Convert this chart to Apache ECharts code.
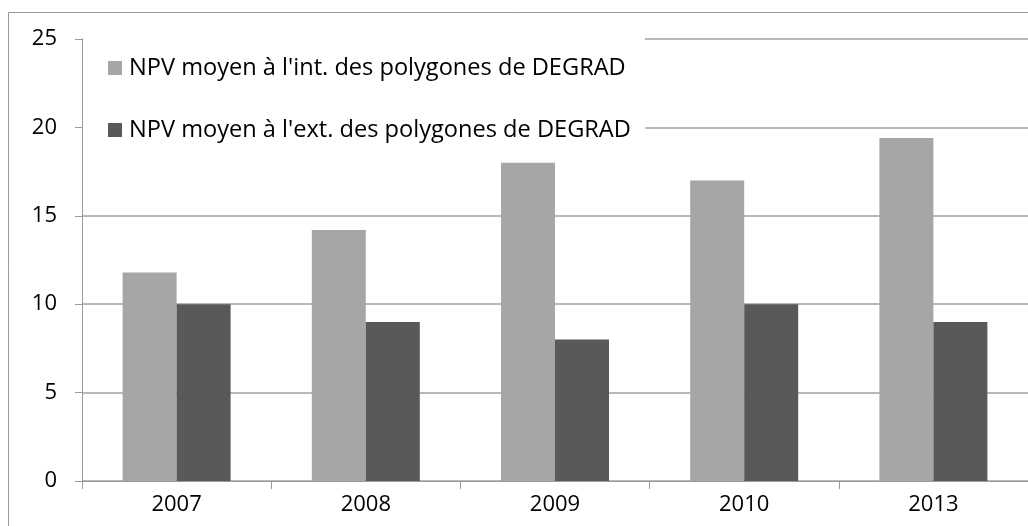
<!DOCTYPE html>
<html>
<head>
<meta charset="utf-8">
<style>
  html, body { margin: 0; padding: 0; background: #fff; }
  #chart { width: 1028px; height: 526px; }
</style>
<script src="https://cdn.jsdelivr.net/npm/echarts@6/dist/echarts.min.js"></script>
</head>
<body>
<div id="chart"></div>
<script>
// Années observées
const years = ['2007', '2008', '2009', '2010', '2013'];
// NPV moyen à l'intérieur des polygones de DEGRAD
const npvInt = [11.8, 14.2, 18, 17, 19.4];
// NPV moyen à l'extérieur des polygones de DEGRAD
const npvExt = [10, 9, 8, 10, 9];
const seriesNames = [
  "NPV moyen à l'int. des polygones de DEGRAD",
  "NPV moyen à l'ext. des polygones de DEGRAD"
];
const yTicks = { min: 0, max: 25, interval: 5 };

const FONT = '"Open Sans", "Noto Sans", sans-serif';
const chart = echarts.init(document.getElementById('chart'), null, { renderer: 'canvas' });

chart.setOption({
  animation: false,
  backgroundColor: '#fff',
  textStyle: { fontFamily: FONT, color: '#000' },
  grid: { left: 82, top: 39, width: 947.5, height: 442, containLabel: false },
  graphic: [
    // outer chart frame
    { type: 'rect', z: 0, silent: true,
      shape: { x: 8.5, y: 12.5, width: 1040, height: 540 },
      style: { fill: 'none', stroke: '#9a9a9a', lineWidth: 1 } },
    // white box behind the legend
    { type: 'rect', z: 3, silent: true,
      shape: { x: 83, y: 30, width: 562, height: 112 },
      style: { fill: '#fff' } }
  ],
  legend: {
    z: 10,
    orient: 'vertical',
    left: 108,
    top: 55,
    padding: 0,
    itemWidth: 14,
    itemHeight: 14,
    itemGap: 36,
    icon: 'rect',
    textStyle: { fontFamily: FONT, fontSize: 23.6, color: '#000', lineHeight: 26, padding: [0, 0, 0, 2] },
    data: seriesNames
  },
  xAxis: {
    type: 'category',
    data: years,
    axisLine: { lineStyle: { color: '#9a9a9a', width: 1 } },
    axisTick: { show: true, length: 8, lineStyle: { color: '#9a9a9a' } },
    axisLabel: { fontFamily: FONT, fontSize: 22, color: '#000', margin: 13 }
  },
  yAxis: {
    type: 'value',
    min: yTicks.min,
    max: yTicks.max,
    interval: yTicks.interval,
    axisLine: { show: true, lineStyle: { color: '#9a9a9a', width: 1 } },
    axisTick: { show: true, length: 7, lineStyle: { color: '#9a9a9a' } },
    axisLabel: { fontFamily: FONT, fontSize: 22, color: '#000', margin: 25 },
    splitLine: { show: true, lineStyle: { color: '#a0a0a0', width: 1.5 } }
  },
  series: [
    { name: seriesNames[0], type: 'bar', data: npvInt, barWidth: 54, barGap: '0%',
      itemStyle: { color: '#a6a6a6' } },
    { name: seriesNames[1], type: 'bar', data: npvExt, barWidth: 54, barGap: '0%',
      itemStyle: { color: '#595959' } }
  ]
});
</script>
</body>
</html>
